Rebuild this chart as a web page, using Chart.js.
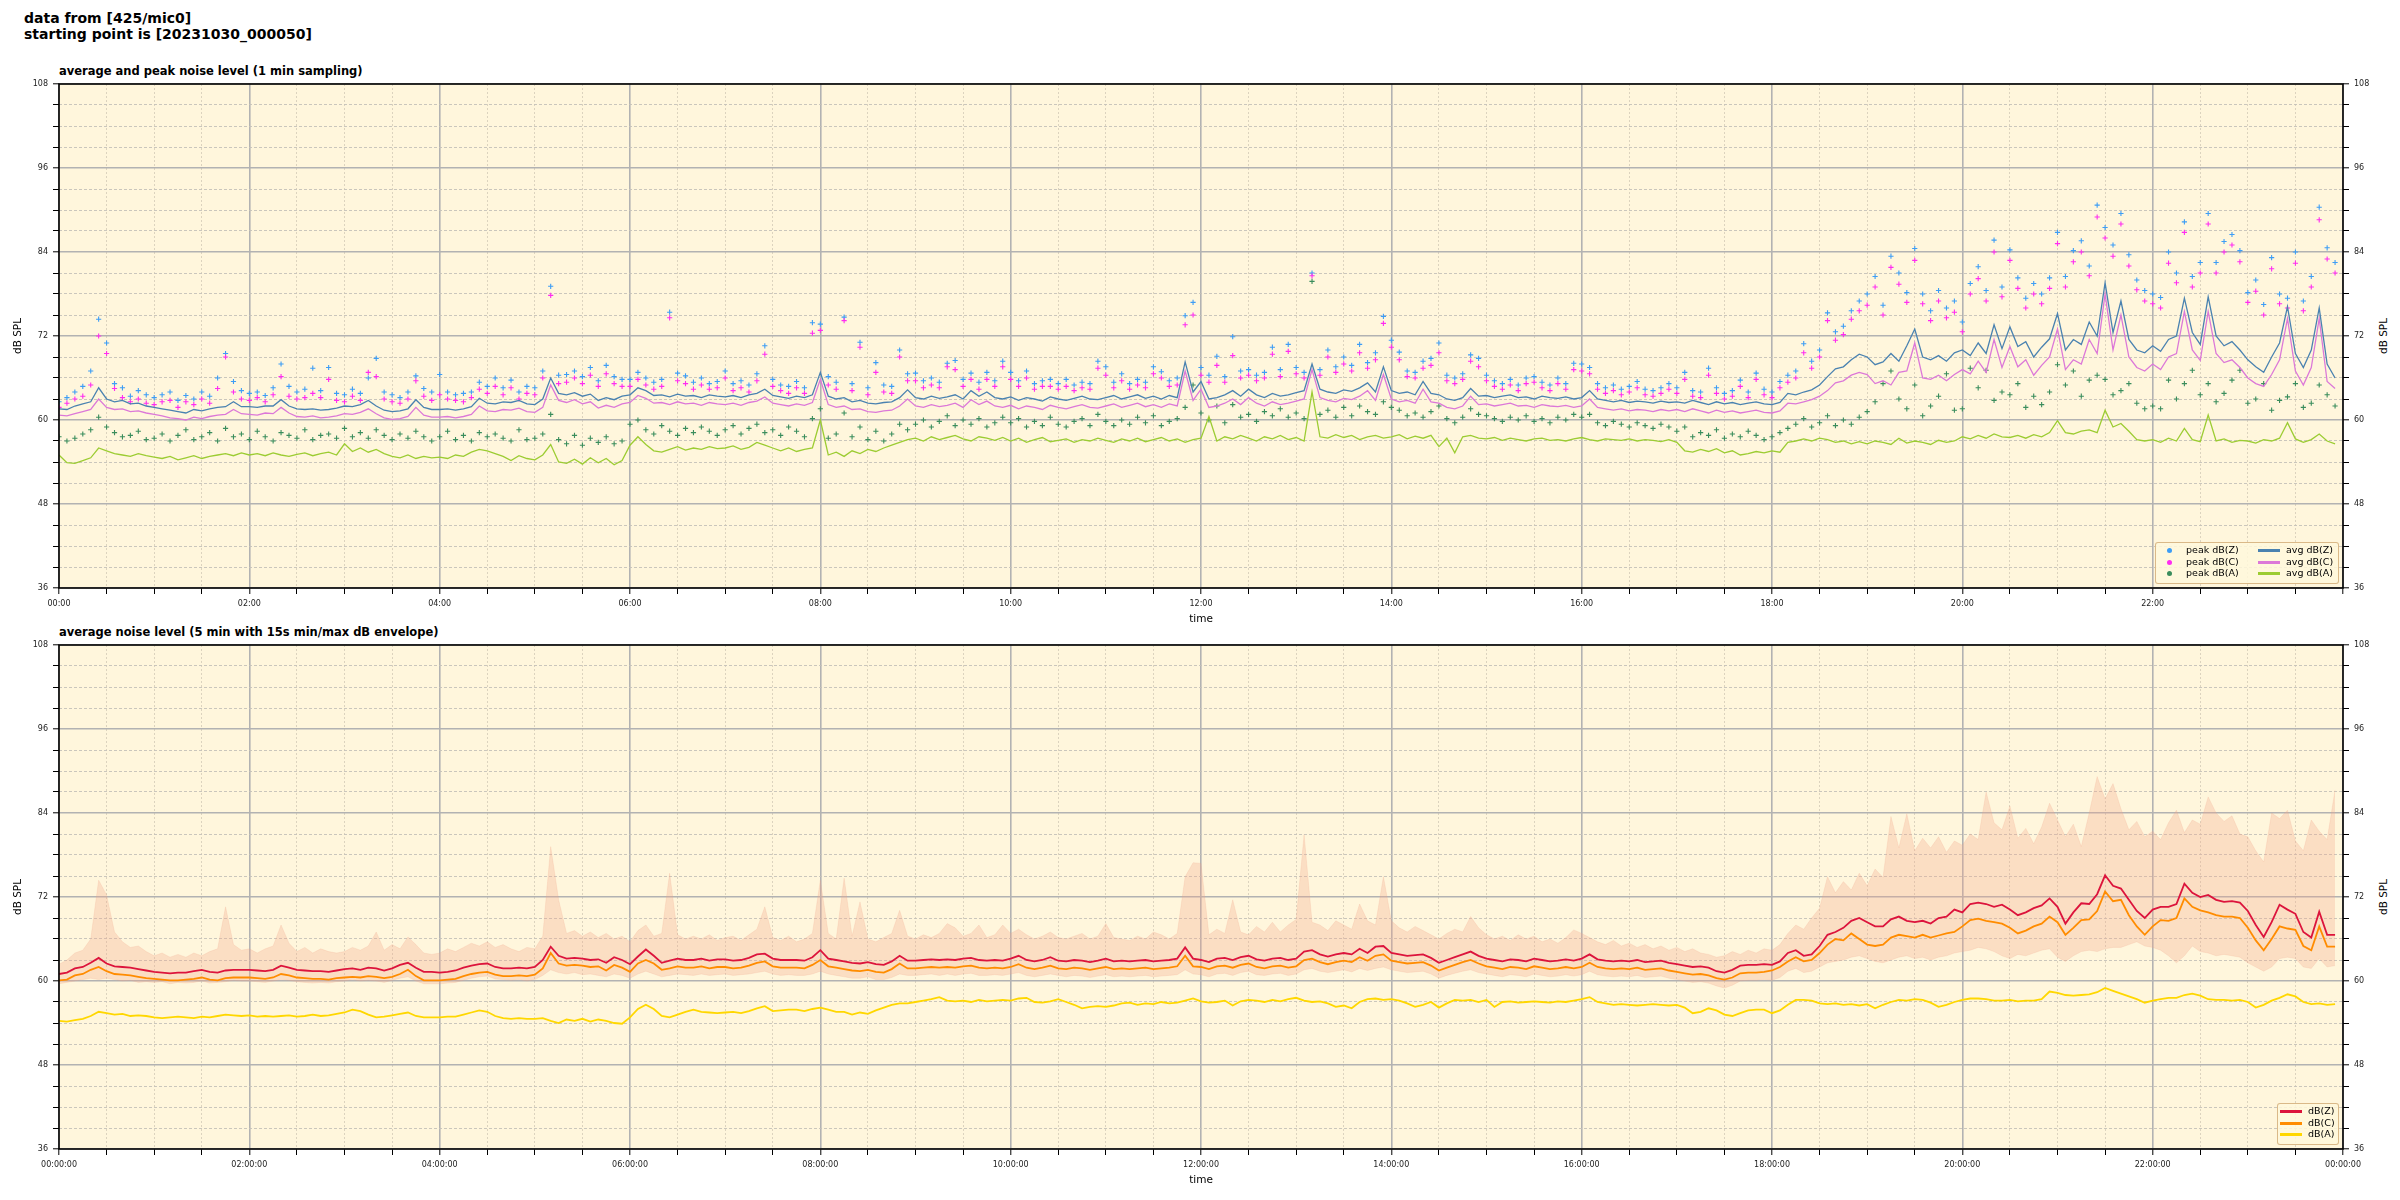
<!DOCTYPE html>
<html>
<head>
<meta charset="utf-8">
<script src="https://cdn.jsdelivr.net/npm/chart.js@4.4.1/dist/chart.umd.min.js"></script>
<style>
  body { margin: 0; background: #fff; width: 2400px; height: 1200px; position: relative; overflow: hidden; font-family: "DejaVu Sans", sans-serif; }
  canvas { position: absolute; left: 0; }
  .txt { position: absolute; white-space: nowrap; color: #000; }
  .suptitle { left: 24px; top: 10px; font-size: 14px; font-weight: bold; line-height: 16px; }
  .subtitle { left: 59px; font-size: 11.5px; font-weight: bold; line-height: 14px; }
  .ylab2 { font-size: 10.5px; transform: translate(-50%, -50%) rotate(-90deg); }
  .legend { position: absolute; background: rgba(255, 248, 220, 0.85); border: 1px solid rgba(214, 178, 128, 0.9); border-radius: 3px; }
  .lg-txt { position: absolute; font-size: 9.5px; line-height: 11px; white-space: nowrap; }
  .lg-dot { position: absolute; width: 5px; height: 5px; border-radius: 50%; }
  .lg-line { position: absolute; height: 3px; }
</style>
</head>
<body>
<div class="txt suptitle">data from [425/mic0]<br>starting point is [20231030_000050]</div>
<div class="txt subtitle" style="top:64px">average and peak noise level (1 min sampling)</div>
<div class="txt subtitle" style="top:625px">average noise level (5 min with 15s min/max dB envelope)</div>
<div class="txt ylab2" style="left:2383px; top:336px">dB SPL</div>
<div class="txt ylab2" style="left:2383px; top:897px">dB SPL</div>

<canvas id="topChart" width="2400" height="558" style="top:74px"></canvas>
<canvas id="bottomChart" width="2400" height="558" style="top:635px"></canvas>

<div class="legend" style="left:2155px; top:542px; width:182px; height:40px"></div>
<div id="topLegend"></div>
<div class="legend" style="left:2277px; top:1103px; width:60px; height:40px"></div>
<div id="bottomLegend"></div>

<script>
// all values in dB SPL, one value every 5 minutes from 00:00, one row per hour

// top panel: 1 min averages
var avgZ = [
  61.6, 61.5, 62.0, 62.3, 62.6, 64.6, 63.0, 62.6, 62.8, 62.3, 62.4, 62.0,
  61.8, 61.6, 61.4, 61.2, 61.0, 61.5, 61.3, 61.6, 61.8, 61.9, 62.6, 61.9,
  61.9, 61.8, 62.0, 62.0, 62.9, 62.0, 61.6, 61.5, 61.6, 61.4, 61.5, 61.7,
  62.0, 61.9, 62.2, 62.8, 62.0, 61.4, 61.2, 61.3, 61.6, 62.9, 61.8, 61.5,
  61.5, 61.6, 61.4, 61.6, 61.9, 63.1, 62.4, 62.3, 62.6, 62.5, 62.8, 62.3,
  62.2, 63.0, 66.0, 63.8, 63.6, 63.9, 63.4, 63.7, 62.8, 63.2, 62.9, 63.4,
  63.6, 64.6, 64.2, 63.5, 63.6, 63.3, 63.7, 63.4, 63.5, 63.2, 63.6, 63.4,
  63.3, 63.5, 63.2, 63.6, 63.8, 64.4, 63.5, 63.3, 63.1, 63.4, 63.2, 63.6,
  66.8, 63.4, 63.0, 63.2, 62.6, 62.8, 62.4, 62.3, 62.5, 62.6, 63.2, 64.3,
  63.2, 63.0, 63.4, 63.1, 63.3, 63.6, 63.0, 64.2, 63.4, 64.0, 63.2, 63.0,
  63.3, 62.8, 63.2, 63.0, 62.7, 63.3, 63.0, 62.8, 63.1, 63.4, 63.0, 62.9,
  63.2, 63.5, 63.0, 63.3, 63.6, 63.1, 63.4, 63.0, 63.5, 63.2, 68.3, 64.0,
  65.5, 63.0, 63.2, 63.6, 64.2, 63.4, 64.4, 63.6, 63.2, 63.8, 63.4, 63.6,
  63.9, 64.2, 68.0, 64.4, 64.0, 63.8, 64.3, 64.1, 64.6, 65.3, 64.0, 67.6,
  64.2, 63.8, 64.0, 63.6, 65.5, 63.8, 63.6, 63.0, 62.8, 63.2, 64.5, 63.4,
  63.5, 63.2, 63.4, 63.6, 63.2, 63.3, 63.0, 63.4, 63.2, 63.1, 63.3, 63.0,
  63.2, 64.2, 63.0, 62.8, 62.6, 62.8, 62.5, 62.7, 62.6, 62.4, 62.7, 62.5,
  62.6, 62.4, 62.8, 62.5, 62.2, 62.6, 62.3, 62.5, 62.2, 62.4, 62.6, 62.3,
  62.2, 62.5, 63.8, 63.6, 64.0, 64.3, 65.0, 66.2, 67.3, 67.6, 68.6, 69.4,
  69.0, 67.9, 68.3, 69.5, 68.4, 70.6, 73.0, 69.0, 68.6, 69.2, 68.4, 69.6,
  70.0, 69.2, 71.0, 69.5, 73.6, 70.2, 73.3, 70.5, 71.2, 69.0, 70.4, 71.6,
  75.2, 70.0, 71.5, 70.8, 74.0, 72.0, 79.6, 72.5, 77.0, 71.5, 70.0, 69.6,
  70.6, 69.8, 71.5, 72.0, 77.4, 72.5, 70.8, 77.6, 72.0, 70.6, 71.2, 70.0,
  68.6, 67.6, 66.8, 69.0, 71.0, 76.2, 69.5, 67.5, 70.0, 76.0, 68.0, 66.0
];
var avgC = [
  60.7, 60.6, 60.9, 61.2, 61.5, 63.0, 61.8, 61.5, 61.6, 61.2, 61.3, 61.0,
  60.8, 60.6, 60.3, 60.2, 60.0, 60.4, 60.2, 60.5, 60.7, 60.8, 61.5, 60.9,
  60.8, 60.7, 61.0, 60.9, 61.8, 61.0, 60.5, 60.4, 60.6, 60.3, 60.4, 60.6,
  60.9, 60.8, 61.1, 61.6, 60.9, 60.3, 60.1, 60.2, 60.5, 61.8, 60.7, 60.4,
  60.4, 60.5, 60.3, 60.5, 60.8, 62.0, 61.3, 61.2, 61.5, 61.4, 61.7, 61.2,
  61.1, 61.8, 65.0, 62.8, 62.5, 62.9, 62.3, 62.6, 61.7, 62.1, 61.8, 62.3,
  62.5, 63.5, 63.1, 62.4, 62.5, 62.2, 62.6, 62.3, 62.4, 62.1, 62.5, 62.3,
  62.2, 62.4, 62.1, 62.5, 62.7, 63.3, 62.4, 62.2, 62.0, 62.3, 62.1, 62.5,
  65.8, 62.2, 61.8, 62.0, 61.5, 61.6, 61.2, 61.1, 61.3, 61.4, 62.0, 63.0,
  62.0, 61.8, 62.2, 61.9, 62.1, 62.4, 61.8, 62.9, 62.2, 62.7, 62.0, 61.8,
  62.1, 61.6, 62.0, 61.8, 61.5, 62.1, 61.8, 61.6, 61.9, 62.2, 61.8, 61.7,
  62.0, 62.3, 61.8, 62.1, 62.4, 61.9, 62.2, 61.8, 62.3, 62.0, 67.0, 62.8,
  64.4, 61.8, 62.0, 62.4, 63.0, 62.2, 63.2, 62.4, 62.0, 62.6, 62.2, 62.4,
  62.7, 63.0, 67.2, 63.2, 62.8, 62.6, 63.1, 62.9, 63.4, 64.2, 62.8, 66.5,
  63.0, 62.6, 62.8, 62.4, 64.4, 62.6, 62.4, 61.8, 61.6, 62.0, 63.4, 62.2,
  62.3, 62.0, 62.2, 62.4, 62.0, 62.1, 61.8, 62.2, 62.0, 61.9, 62.1, 61.8,
  62.0, 63.0, 61.8, 61.6, 61.4, 61.6, 61.3, 61.5, 61.4, 61.2, 61.5, 61.3,
  61.5, 61.2, 61.6, 61.3, 61.0, 61.4, 61.1, 61.3, 61.0, 61.2, 61.4, 61.1,
  61.0, 61.3, 62.4, 62.3, 62.6, 62.9, 63.4, 64.2, 65.3, 65.6, 66.4, 66.8,
  66.5, 65.2, 65.6, 65.0, 66.8, 67.0, 71.0, 66.0, 65.8, 66.4, 65.6, 66.5,
  67.2, 66.6, 68.4, 66.8, 71.5, 67.5, 70.5, 67.6, 68.6, 66.4, 67.8, 69.0,
  73.0, 67.2, 68.6, 68.0, 71.5, 69.5, 78.0, 70.0, 75.0, 69.0, 67.5, 67.0,
  68.0, 67.2, 69.0, 69.5, 75.5, 70.0, 68.5, 75.5, 69.5, 68.2, 68.6, 67.5,
  66.0, 65.2, 64.8, 66.5, 68.6, 74.5, 67.0, 65.0, 67.5, 74.5, 65.5, 64.5
];
var avgA = [
  55.0, 53.9, 53.8, 54.2, 54.6, 56.0, 55.6, 55.2, 55.0, 54.8, 55.2, 54.9,
  54.7, 54.5, 54.8, 54.3, 54.6, 54.9, 54.5, 54.8, 55.0, 55.2, 54.9, 55.3,
  55.0, 55.2, 54.9, 55.3, 55.0, 54.8, 55.1, 55.3, 54.9, 55.2, 55.4, 55.0,
  56.6, 55.5, 56.0, 55.4, 55.8, 55.2, 54.8, 54.6, 55.0, 54.5, 54.8, 54.6,
  54.7, 54.5, 55.0, 54.8, 55.4, 55.8, 55.6, 55.2, 54.8, 54.2, 54.9, 54.5,
  54.3, 55.0, 56.5, 54.0, 53.8, 54.4, 53.7, 54.6, 53.9, 54.5, 53.6, 54.2,
  56.4, 57.6, 56.5, 55.6, 55.4, 55.8, 56.2, 55.7, 56.0, 55.8, 56.2, 55.9,
  56.0, 56.3, 55.8, 56.1, 56.8, 56.4, 56.0, 55.6, 56.0, 55.5, 55.8, 56.0,
  60.0, 55.0, 55.4, 54.8, 55.6, 55.2, 55.8, 55.5, 56.0, 56.4, 56.8, 57.2,
  57.4, 57.0, 57.6, 57.2, 57.5, 57.8, 57.3, 57.0, 57.6, 57.4, 57.1, 57.5,
  57.0, 57.4, 56.8, 57.2, 57.5, 56.9, 57.1, 57.3, 56.8, 57.2, 57.0, 57.4,
  57.1, 56.8, 57.3, 57.0, 57.4, 56.9, 57.2, 57.5, 57.0, 57.3, 56.8, 57.2,
  57.4, 60.5, 57.0, 57.6, 57.3, 57.8, 57.4, 57.0, 57.6, 57.3, 57.8, 57.2,
  57.5, 57.0, 64.0, 57.6, 57.4, 57.9, 57.5, 57.8, 57.2, 57.6, 57.8, 57.4,
  57.6, 57.9, 57.3, 57.7, 57.4, 57.8, 56.2, 57.4, 55.3, 57.6, 57.8, 57.4,
  57.3, 57.5, 57.1, 57.4, 57.2, 57.0, 57.3, 57.4, 57.1, 57.2, 57.0, 57.3,
  57.5, 57.2, 57.0, 57.3, 57.2, 57.1, 57.3, 57.0, 57.2, 57.1, 56.9, 57.2,
  56.8, 55.6, 55.4, 55.8, 55.5, 55.9, 55.3, 55.6, 55.0, 55.2, 55.5, 55.3,
  55.6, 55.4, 56.8, 57.0, 57.3, 57.0, 57.4, 57.2, 56.8, 57.0, 56.6, 56.9,
  56.6, 57.0, 56.8, 56.5, 57.4, 56.7, 57.0, 56.8, 56.5, 57.1, 56.8, 57.0,
  57.6, 57.3, 57.8, 57.4, 58.0, 57.6, 57.5, 57.8, 57.4, 57.9, 57.6, 58.2,
  59.9, 58.2, 58.0, 58.4, 58.6, 58.2, 61.4, 59.0, 59.5, 58.4, 57.2, 57.0,
  57.2, 56.8, 57.4, 57.0, 58.8, 57.2, 56.9, 60.7, 57.0, 57.3, 56.8, 57.1,
  57.0, 56.7, 57.2, 57.0, 57.4, 59.6, 57.3, 56.8, 57.2, 58.0, 57.0, 56.6
];

// top panel: 1 min peaks
var peakZ = [
  62.6, 63.2, 64.0, 64.8, 67.0, 74.4, 71.0, 65.2, 64.6, 63.4, 64.2, 63.6,
  63.2, 63.6, 64.0, 62.8, 63.5, 63.0, 64.0, 63.4, 66.0, 69.5, 65.5, 64.2,
  63.8, 64.0, 63.5, 64.6, 68.0, 64.8, 64.0, 64.4, 67.4, 64.2, 67.5, 63.8,
  63.6, 64.4, 63.8, 66.0, 68.8, 64.0, 63.6, 63.2, 64.0, 66.3, 64.5, 64.0,
  66.5, 64.0, 63.6, 63.8, 64.0, 65.4, 64.8, 66.0, 64.6, 65.7, 64.0, 64.8,
  64.6, 67.0, 79.1, 66.4, 66.5, 67.0, 66.2, 67.5, 65.6, 67.8, 66.2, 65.8,
  65.8, 66.8, 66.0, 65.4, 65.8, 75.4, 66.7, 66.3, 65.4, 66.0, 65.2, 65.5,
  67.0, 65.2, 65.6, 65.0, 66.6, 70.6, 65.8, 65.0, 64.8, 65.5, 64.6, 73.9,
  73.7, 66.2, 65.4, 74.7, 65.2, 71.1, 64.6, 68.2, 65.0, 64.8, 70.0, 66.6,
  66.7, 65.6, 66.0, 65.4, 68.1, 68.5, 65.8, 66.7, 65.4, 66.8, 65.6, 68.4,
  66.8, 65.6, 67.0, 65.2, 65.6, 65.8, 65.2, 65.8, 65.0, 65.4, 65.2, 68.4,
  67.6, 65.4, 66.6, 65.2, 65.8, 65.4, 67.6, 66.9, 65.6, 66.0, 74.9, 76.8,
  67.5, 66.4, 69.1, 66.2, 71.9, 67.0, 67.2, 66.4, 66.8, 70.4, 67.2, 70.8,
  67.5, 66.8, 81.0, 67.2, 70.0, 67.6, 69.0, 67.8, 70.8, 68.2, 69.6, 74.8,
  71.4, 69.7, 67.0, 66.8, 68.4, 68.8, 71.0, 66.4, 66.0, 66.6, 69.3, 68.8,
  66.4, 65.6, 65.2, 65.8, 65.0, 66.0, 66.2, 65.4, 65.0, 66.0, 65.2, 68.1,
  68.0, 67.5, 65.2, 64.6, 65.0, 64.4, 64.8, 65.5, 64.4, 64.2, 64.6, 65.2,
  64.6, 66.8, 64.2, 64.0, 67.4, 64.6, 63.8, 64.2, 65.7, 64.0, 66.7, 64.4,
  64.0, 65.5, 66.4, 67.0, 70.9, 68.4, 70.0, 75.3, 72.6, 73.4, 75.6, 77.0,
  78.0, 80.5, 76.4, 83.4, 81.0, 78.2, 84.5, 78.0, 75.6, 78.5, 76.0, 77.0,
  74.0, 79.5, 81.9, 78.5, 85.7, 79.0, 84.3, 80.3, 77.4, 79.5, 78.0, 80.3,
  86.8, 80.5, 84.2, 85.6, 82.0, 90.7, 87.5, 85.0, 89.5, 83.6, 80.0, 78.5,
  78.0, 77.5, 84.0, 81.0, 88.3, 80.5, 82.5, 89.5, 82.5, 85.5, 86.5, 84.2,
  78.2, 80.0, 76.5, 83.2, 78.0, 77.4, 84.0, 77.0, 80.5, 90.4, 84.6, 82.5
];
var peakC = [
  61.8, 62.4, 63.0, 63.4, 65.0, 72.0, 69.5, 64.5, 63.2, 62.6, 63.0, 62.4,
  62.2, 62.6, 62.8, 61.8, 62.6, 62.2, 63.0, 62.4, 64.5, 69.0, 64.0, 63.0,
  62.8, 63.2, 62.6, 63.6, 66.2, 63.4, 63.0, 63.2, 63.8, 63.2, 65.8, 62.8,
  62.6, 63.4, 62.8, 66.8, 66.2, 63.0, 62.6, 62.4, 63.0, 65.6, 63.4, 62.8,
  63.6, 63.0, 62.8, 62.6, 63.2, 64.4, 63.8, 64.8, 63.6, 64.6, 63.0, 63.8,
  63.6, 66.0, 77.8, 65.2, 65.4, 66.0, 65.2, 66.4, 64.8, 66.6, 65.2, 64.8,
  64.8, 65.8, 65.0, 64.4, 64.8, 74.6, 65.6, 65.2, 64.4, 65.0, 64.4, 64.6,
  66.0, 64.2, 64.6, 64.0, 65.6, 69.4, 64.8, 64.2, 63.8, 64.6, 63.8, 72.4,
  72.8, 65.0, 64.4, 74.2, 64.2, 70.4, 63.6, 66.8, 64.0, 63.8, 69.0, 65.6,
  65.6, 64.6, 65.0, 64.6, 67.6, 67.2, 64.8, 65.8, 64.4, 65.8, 64.8, 67.6,
  65.8, 64.8, 66.0, 64.4, 64.8, 64.8, 64.4, 64.8, 64.2, 64.6, 64.4, 67.4,
  66.4, 64.6, 65.6, 64.4, 65.0, 64.6, 66.6, 66.0, 64.8, 65.0, 73.6, 75.0,
  66.4, 65.4, 67.8, 65.4, 69.2, 66.0, 66.4, 65.6, 66.0, 69.4, 66.2, 69.8,
  66.6, 66.0, 80.6, 66.4, 69.0, 66.8, 68.0, 67.0, 69.6, 67.4, 68.6, 73.8,
  70.4, 68.6, 66.2, 66.0, 67.4, 67.8, 69.6, 65.6, 65.2, 65.8, 68.4, 67.6,
  65.6, 64.8, 64.4, 65.0, 64.2, 65.2, 65.4, 64.6, 64.2, 65.2, 64.4, 67.2,
  67.0, 66.6, 64.4, 63.8, 64.2, 63.6, 64.0, 64.6, 63.6, 63.4, 63.8, 64.4,
  63.8, 65.8, 63.4, 63.2, 66.4, 63.8, 63.0, 63.4, 64.8, 63.2, 65.8, 63.6,
  63.2, 64.6, 65.4, 66.0, 69.6, 67.4, 69.0, 74.2, 71.4, 72.2, 74.4, 75.6,
  76.4, 79.0, 75.0, 81.8, 79.4, 76.8, 82.8, 76.6, 74.2, 77.0, 74.6, 75.4,
  72.6, 78.0, 80.2, 77.0, 84.0, 77.6, 82.8, 78.8, 76.0, 78.0, 76.6, 78.8,
  85.2, 79.0, 82.6, 84.0, 80.6, 89.0, 86.0, 83.4, 88.0, 82.0, 78.6, 77.0,
  76.6, 76.0, 82.4, 79.6, 86.8, 79.0, 81.0, 88.0, 81.0, 84.0, 85.0, 82.6,
  76.8, 78.4, 75.0, 81.6, 76.6, 76.0, 82.4, 75.6, 79.0, 88.6, 83.0, 81.0
];
var peakA = [
  57.6, 57.0, 57.4, 58.0, 58.6, 60.4, 59.0, 58.2, 57.6, 57.8, 58.4, 57.2,
  57.4, 58.0, 57.0, 57.8, 58.6, 57.2, 57.6, 58.2, 57.0, 58.8, 57.6, 58.0,
  57.2, 58.4, 57.6, 57.0, 58.2, 57.8, 57.4, 58.6, 57.2, 57.8, 58.0, 57.4,
  58.8, 57.6, 58.2, 57.4, 58.6, 57.8, 57.2, 58.0, 57.4, 58.4, 57.6, 57.0,
  57.6, 58.4, 57.2, 57.8, 57.0, 58.2, 57.6, 58.0, 57.4, 57.0, 58.6, 57.2,
  57.4, 58.0, 60.8, 57.2, 56.6, 57.8, 56.4, 57.4, 56.8, 57.6, 56.6, 57.0,
  59.4, 60.0, 58.6, 58.0, 59.2, 58.4, 57.8, 58.8, 58.2, 59.0, 58.4, 57.8,
  58.6, 59.2, 58.0, 58.8, 59.4, 58.2, 58.6, 57.8, 59.0, 58.4, 57.6, 60.2,
  61.6, 57.4, 58.0, 61.0, 57.6, 59.0, 57.2, 58.4, 57.0, 58.0, 59.4, 58.6,
  59.4, 60.0, 59.0, 59.8, 60.6, 59.2, 60.0, 59.4, 60.2, 59.0, 59.6, 60.4,
  59.6, 60.2, 59.0, 59.8, 59.2, 60.4, 59.4, 59.0, 59.8, 60.2, 59.2, 60.8,
  59.8, 59.2, 60.0, 59.4, 60.4, 59.6, 60.6, 59.2, 59.8, 60.2, 61.8, 65.0,
  61.0, 60.0, 62.0, 59.6, 62.2, 60.4, 60.8, 59.8, 61.2, 60.6, 61.6, 60.4,
  61.0, 60.2, 79.8, 60.8, 61.4, 60.4, 61.8, 60.6, 62.0, 61.2, 60.8, 62.6,
  61.8, 61.4, 60.6, 61.0, 60.4, 61.2, 62.0, 60.2, 59.6, 60.4, 61.6, 60.8,
  60.6, 60.2, 59.8, 60.4, 60.0, 60.6, 59.8, 60.2, 59.6, 60.4, 60.0, 60.8,
  60.4, 60.8, 59.6, 59.2, 59.8, 59.4, 59.0, 59.6, 59.2, 58.8, 59.4, 59.0,
  58.4, 59.0, 57.6, 58.2, 57.8, 58.6, 57.4, 58.0, 57.6, 58.4, 57.8, 57.2,
  57.6, 58.2, 58.8, 59.4, 60.2, 59.0, 59.6, 60.6, 59.2, 60.0, 59.4, 60.4,
  61.2, 62.6, 65.2, 67.0, 63.0, 61.6, 65.0, 60.6, 62.0, 63.4, 66.6, 61.4,
  61.6, 67.4, 64.6, 67.1, 62.8, 64.0, 63.6, 65.2, 61.8, 63.4, 62.2, 64.0,
  67.9, 65.0, 67.0, 63.4, 65.7, 66.4, 65.8, 63.6, 64.2, 65.2, 62.4, 61.6,
  62.0, 61.6, 65.7, 63.0, 65.2, 67.1, 63.6, 65.2, 62.6, 63.8, 65.7, 67.1,
  62.4, 63.0, 65.2, 61.4, 62.8, 63.3, 65.2, 61.8, 62.4, 65.0, 63.6, 62.0
];

// bottom panel: 5 min averages
var dbZ = [
  61.0, 61.2, 61.8, 62.0, 62.6, 63.3, 62.5, 62.1, 62.0, 61.9, 61.7, 61.5,
  61.3, 61.2, 61.1, 61.2, 61.2, 61.4, 61.6, 61.3, 61.2, 61.5, 61.6, 61.6,
  61.6, 61.5, 61.4, 61.6, 62.2, 61.9, 61.6, 61.5, 61.4, 61.4, 61.3, 61.5,
  61.7, 61.8, 61.6, 61.9, 61.8, 61.5, 61.8, 62.3, 62.6, 61.9, 61.3, 61.3,
  61.2, 61.3, 61.5, 61.9, 62.2, 62.4, 62.5, 62.0, 61.8, 61.8, 61.9, 61.8,
  62.0, 63.0, 64.9, 63.6, 63.2, 63.3, 63.2, 63.0, 63.1, 62.6, 63.4, 63.0,
  62.4, 63.5, 64.5, 63.6, 62.6, 62.9, 63.2, 63.0, 63.0, 63.2, 62.9, 63.1,
  63.1, 62.9, 63.0, 63.3, 63.8, 63.9, 63.2, 63.0, 63.0, 63.0, 62.9, 63.4,
  64.4, 63.2, 63.0, 62.8, 62.6, 62.5, 62.7, 62.4, 62.3, 62.8, 63.6, 62.9,
  62.9, 63.0, 63.1, 63.0, 63.1, 63.0, 63.2, 63.3, 63.0, 62.9, 63.0, 62.9,
  63.2, 63.6, 63.0, 62.8, 63.0, 63.4, 62.9, 62.8, 63.0, 62.9, 62.7, 62.9,
  63.2, 62.8, 62.9, 62.8, 62.9, 63.0, 62.8, 62.9, 63.0, 63.2, 64.8, 63.2,
  63.0, 62.7, 63.2, 63.3, 63.0, 63.4, 63.6, 63.1, 62.9, 63.2, 63.3, 63.0,
  63.2, 64.2, 64.4, 63.8, 63.5, 63.8, 64.0, 63.8, 64.6, 64.0, 64.9, 65.0,
  64.0, 63.8, 63.6, 63.7, 63.8, 63.3, 62.6, 63.0, 63.4, 63.8, 64.2, 63.6,
  63.2, 63.0, 62.8, 63.1, 63.0, 62.8, 63.2, 63.0, 62.8, 62.9, 63.1, 62.9,
  63.2, 63.8, 63.1, 62.9, 62.8, 62.9, 62.8, 63.0, 62.7, 62.8, 62.9, 62.6,
  62.4, 62.2, 62.0, 62.1, 61.9, 61.4, 61.2, 61.6, 62.2, 62.3, 62.3, 62.4,
  62.3, 62.8, 64.0, 64.4, 63.6, 63.8, 65.0, 66.6, 67.0, 67.6, 68.6, 69.0,
  68.4, 67.8, 67.8, 68.8, 69.2, 68.6, 68.4, 68.6, 68.2, 69.0, 69.2, 70.2,
  69.8, 71.0, 71.2, 71.0, 70.6, 70.9, 70.2, 69.4, 69.8, 70.4, 70.8, 71.8,
  70.6, 68.2, 69.8, 71.1, 71.0, 72.4, 75.1, 73.6, 73.2, 71.6, 70.0, 69.0,
  70.2, 70.6, 70.6, 71.0, 73.9, 72.6, 72.0, 72.3, 71.6, 71.3, 71.4, 71.2,
  70.0, 68.0, 66.3, 68.4, 70.9, 70.2, 69.6, 67.0, 66.2, 69.9, 66.6, 66.6
];
var dbC = [
  60.1, 60.2, 60.8, 61.0, 61.6, 62.0, 61.4, 61.0, 60.9, 60.8, 60.6, 60.4,
  60.3, 60.2, 60.1, 60.1, 60.2, 60.3, 60.5, 60.2, 60.1, 60.4, 60.5, 60.5,
  60.5, 60.4, 60.3, 60.5, 61.0, 60.8, 60.5, 60.4, 60.3, 60.3, 60.2, 60.4,
  60.5, 60.6, 60.5, 60.7, 60.6, 60.4, 60.6, 61.0, 61.6, 60.7, 60.1, 60.1,
  60.1, 60.2, 60.3, 60.7, 61.0, 61.2, 61.3, 60.9, 60.7, 60.7, 60.8, 60.7,
  60.9, 61.8, 64.0, 62.5, 62.2, 62.3, 62.2, 62.0, 62.1, 61.5, 62.3, 61.9,
  61.3, 62.5, 63.0, 62.5, 61.6, 61.8, 62.1, 61.9, 61.9, 62.1, 61.8, 62.0,
  62.0, 61.8, 61.9, 62.2, 62.6, 62.8, 62.1, 61.9, 61.9, 61.9, 61.8, 62.3,
  63.0, 62.1, 61.9, 61.7, 61.5, 61.4, 61.6, 61.3, 61.2, 61.7, 62.5, 61.8,
  61.8, 61.9, 62.0, 61.9, 62.0, 61.9, 62.1, 62.2, 61.9, 61.8, 61.9, 61.8,
  62.0, 62.4, 61.9, 61.7, 61.9, 62.2, 61.8, 61.7, 61.9, 61.8, 61.6, 61.8,
  62.0, 61.7, 61.8, 61.7, 61.8, 61.9, 61.7, 61.8, 61.9, 62.1, 63.6, 62.1,
  62.0, 61.7, 62.1, 62.2, 61.9, 62.3, 62.5, 62.0, 61.8, 62.1, 62.2, 61.9,
  62.1, 63.0, 63.2, 62.7, 62.4, 62.7, 62.9, 62.7, 63.4, 62.9, 63.6, 63.8,
  62.9, 62.7, 62.5, 62.6, 62.7, 62.2, 61.5, 61.9, 62.3, 62.7, 63.0, 62.5,
  62.1, 61.9, 61.7, 62.0, 61.9, 61.7, 62.1, 61.9, 61.7, 61.8, 62.0, 61.8,
  62.0, 62.6, 62.0, 61.8, 61.7, 61.8, 61.7, 61.9, 61.6, 61.7, 61.8, 61.5,
  61.3, 61.1, 60.9, 61.0, 60.8, 60.4, 60.2, 60.5, 61.1, 61.2, 61.2, 61.3,
  61.5, 62.0, 62.8, 63.4, 62.8, 63.0, 64.0, 65.2, 66.0, 65.8, 66.8, 66.0,
  65.2, 65.0, 65.2, 66.2, 66.6, 66.4, 66.2, 66.6, 66.2, 66.5, 66.8, 67.0,
  67.8, 68.7, 68.9, 68.6, 68.4, 68.2, 67.6, 66.8, 67.2, 67.8, 68.2, 69.2,
  68.4, 66.6, 67.6, 68.7, 68.8, 70.0, 72.8, 71.4, 71.6, 69.4, 67.8, 66.6,
  67.8, 68.7, 68.6, 69.0, 71.8, 70.6, 70.1, 69.8, 69.4, 69.2, 69.2, 69.0,
  67.6, 65.8, 64.4, 66.0, 67.8, 67.5, 67.3, 65.0, 64.4, 67.8, 64.9, 64.9
];
var dbA = [
  54.3, 54.2, 54.4, 54.6, 55.0, 55.6, 55.4, 55.2, 55.3, 55.0, 55.1, 55.0,
  54.8, 54.7, 54.8, 54.9, 54.8, 54.7, 54.9, 54.8, 55.0, 55.2, 55.1, 55.0,
  55.1, 54.9, 55.0, 54.9, 55.0, 55.1, 54.9, 55.0, 55.2, 55.0, 55.1, 55.3,
  55.5, 55.9, 55.7, 55.2, 54.8, 54.9, 55.1, 55.3, 55.5, 55.0, 54.8, 54.8,
  54.8, 54.9, 54.9, 55.2, 55.5, 55.8, 55.6, 55.0, 54.7, 54.6, 54.7, 54.6,
  54.6, 54.7, 54.3, 54.0, 54.5, 54.3, 54.6, 54.2, 54.5, 54.3, 54.0, 53.9,
  54.8, 56.0, 56.6, 56.0, 55.0, 54.8, 55.2, 55.6, 55.9, 55.6, 55.5, 55.4,
  55.5, 55.6, 55.4, 55.7, 56.1, 56.4, 55.7, 55.8, 55.9, 55.9, 55.7, 56.0,
  56.2, 55.9, 55.6, 55.6, 55.2, 55.5, 55.3, 55.8, 56.2, 56.6, 56.8, 56.8,
  57.0, 57.2, 57.4, 57.7, 57.2, 57.1, 57.2, 57.0, 57.3, 57.1, 57.2, 57.3,
  57.2, 57.5, 57.6, 57.0, 56.9, 57.1, 57.4, 57.0, 56.6, 56.1, 56.3, 56.4,
  56.3, 56.5, 56.8, 56.9, 56.6, 56.8, 56.7, 57.0, 56.8, 56.9, 57.2, 57.5,
  57.1, 56.9, 57.0, 57.2, 56.5, 57.1, 57.3, 57.2, 57.0, 57.3, 57.1, 57.4,
  57.6, 57.2, 57.0, 57.1, 56.8, 56.3, 56.5, 56.1, 57.0, 57.4, 57.5, 57.3,
  57.4, 57.2, 56.8, 56.3, 56.6, 57.0, 56.2, 56.8, 57.3, 57.2, 57.3, 57.0,
  57.3, 56.3, 57.0, 57.1, 56.9, 57.0, 57.1, 57.0, 56.9, 57.1, 57.0, 57.2,
  57.4, 57.7, 57.0, 56.8, 56.6, 56.7, 56.6, 56.5, 56.6, 56.7, 56.6, 56.5,
  56.6, 56.2, 55.4, 55.6, 56.1, 55.8, 55.2, 55.0, 55.4, 55.8, 55.9, 55.9,
  55.4, 55.8, 56.6, 57.3, 57.3, 57.2, 56.8, 56.7, 56.8, 56.6, 56.7, 56.5,
  56.7, 56.1, 56.6, 57.0, 57.3, 57.2, 57.4, 57.3, 56.9, 56.3, 56.6, 57.0,
  57.3, 57.5, 57.5, 57.4, 57.2, 57.2, 57.3, 57.1, 57.2, 57.2, 57.4, 58.5,
  58.3, 58.0, 57.9, 58.0, 58.1, 58.4, 59.0, 58.6, 58.2, 57.8, 57.4, 56.9,
  57.2, 57.4, 57.6, 57.6, 58.0, 58.2, 57.9, 57.4, 57.3, 57.3, 57.2, 57.3,
  57.0, 56.2, 56.6, 57.2, 57.6, 58.1, 57.8, 57.0, 56.7, 56.8, 56.6, 56.7
];

// bottom panel: 15 s min / max envelope
var envMax = [
  62.4, 63.0, 64.0, 64.4, 66.0, 74.4, 72.3, 67.0, 65.6, 64.8, 65.0, 64.2,
  63.6, 64.0, 63.4, 63.8, 63.4, 64.0, 63.6, 64.2, 64.6, 70.6, 65.2, 64.4,
  64.6, 64.0, 64.6, 65.0, 68.0, 65.4, 64.2, 64.8, 64.0, 64.6, 64.2, 64.0,
  64.2, 64.8, 64.4, 65.0, 67.0, 64.4, 65.2, 64.6, 66.3, 65.2, 64.0, 63.8,
  64.0, 64.6, 64.2, 64.8, 65.4, 65.0, 65.6, 64.8, 65.2, 64.6, 64.2, 64.8,
  64.6, 66.4, 79.2, 71.6, 66.8, 67.2, 66.4, 67.0, 66.2, 66.8, 66.0, 66.4,
  65.6, 67.2, 68.0, 66.4, 66.8, 75.4, 66.6, 66.0, 66.4, 66.0, 66.6, 65.8,
  66.2, 66.4, 65.8, 66.6, 67.4, 70.6, 66.2, 65.8, 66.4, 65.6, 66.0, 66.8,
  74.4, 66.8, 66.0, 74.7, 66.4, 71.3, 66.0, 65.6, 66.2, 66.8, 70.1, 66.4,
  66.0, 66.6, 66.2, 66.8, 68.2, 67.6, 66.4, 66.8, 68.0, 66.2, 66.6, 68.0,
  66.8, 67.4, 66.6, 66.0, 66.4, 67.0, 66.2, 66.0, 66.4, 66.8, 66.0, 66.4,
  68.2, 66.2, 66.0, 65.8, 66.4, 66.0, 67.0, 66.6, 66.0, 66.8, 74.9, 76.9,
  76.8, 66.6, 67.4, 66.8, 71.6, 67.0, 66.6, 67.8, 67.0, 68.4, 67.0, 68.0,
  68.8, 80.9, 68.4, 68.0, 67.2, 68.6, 68.0, 67.4, 71.0, 68.6, 68.0, 74.9,
  68.6, 67.6, 67.0, 67.8, 67.2, 66.6, 66.0, 66.8, 67.4, 67.0, 69.2, 67.6,
  66.6, 66.0, 66.4, 65.8, 66.6, 66.0, 66.4, 65.6, 66.0, 65.4, 66.2, 67.3,
  66.8, 66.2, 65.6, 65.2, 65.8, 65.0, 65.4, 64.8, 65.2, 64.6, 65.0, 64.4,
  64.8, 64.2, 64.6, 64.0, 63.8, 63.4, 63.6, 64.2, 63.8, 64.4, 64.0, 64.6,
  64.4, 65.2, 66.8, 68.0, 67.4, 69.0, 70.4, 74.9, 72.6, 74.2, 73.0, 75.4,
  73.6, 76.0, 74.8, 83.5, 79.0, 83.9, 78.6, 80.4, 79.0, 80.6, 78.4, 80.0,
  79.4, 81.0, 80.2, 87.0, 82.6, 81.6, 85.0, 80.4, 81.8, 79.6, 82.0, 85.4,
  83.0, 80.6, 82.4, 79.2, 84.0, 89.2, 86.0, 88.2, 84.6, 81.6, 82.8, 80.6,
  81.4, 80.2, 82.6, 84.4, 81.2, 83.0, 82.4, 86.3, 84.0, 82.8, 83.6, 81.0,
  80.6, 78.6, 77.0, 84.0, 83.2, 84.4, 80.0, 78.6, 83.0, 81.4, 80.2, 87.3
];
var envMin = [
  59.6, 59.8, 60.0, 60.2, 60.4, 60.2, 60.4, 60.2, 60.0, 60.1, 59.8, 59.9,
  59.8, 59.9, 59.6, 59.8, 59.7, 59.8, 60.0, 59.7, 59.8, 59.9, 60.1, 60.0,
  60.0, 59.9, 59.8, 60.0, 60.2, 60.1, 59.9, 59.8, 59.7, 59.8, 59.7, 59.9,
  60.0, 60.2, 60.0, 60.1, 60.0, 59.8, 60.1, 60.4, 60.6, 60.0, 59.6, 59.6,
  59.6, 59.7, 59.8, 60.1, 60.4, 60.6, 60.7, 60.3, 60.2, 60.1, 60.2, 60.0,
  60.2, 60.8, 61.6, 61.2, 61.0, 61.2, 60.9, 61.0, 60.8, 60.6, 61.0, 60.8,
  60.4, 61.0, 61.4, 61.0, 60.6, 60.8, 61.0, 60.9, 60.8, 61.0, 60.8, 60.9,
  61.0, 60.8, 60.9, 61.0, 61.2, 61.4, 61.0, 60.8, 60.9, 60.8, 60.8, 61.0,
  61.4, 61.0, 60.8, 60.6, 60.4, 60.4, 60.6, 60.2, 60.2, 60.5, 61.0, 60.8,
  60.8, 60.9, 61.0, 60.8, 61.0, 60.8, 61.0, 61.1, 60.8, 60.8, 60.9, 60.8,
  61.0, 61.2, 60.8, 60.6, 60.8, 61.0, 60.8, 60.6, 60.8, 60.7, 60.5, 60.7,
  60.9, 60.6, 60.7, 60.6, 60.7, 60.8, 60.6, 60.7, 60.8, 60.9, 61.6, 61.0,
  60.9, 60.6, 61.0, 61.1, 60.8, 61.2, 61.4, 60.9, 60.8, 61.0, 61.1, 60.8,
  61.0, 61.6, 61.8, 61.4, 61.2, 61.4, 61.6, 61.3, 61.8, 61.5, 61.8, 62.0,
  61.6, 61.4, 61.2, 61.3, 61.4, 61.0, 60.4, 60.8, 61.1, 61.4, 61.6, 61.2,
  61.0, 60.8, 60.6, 60.9, 60.8, 60.6, 61.0, 60.8, 60.6, 60.7, 60.9, 60.7,
  60.9, 61.4, 60.9, 60.7, 60.6, 60.7, 60.6, 60.8, 60.5, 60.6, 60.7, 60.4,
  60.2, 60.0, 59.8, 59.9, 59.7, 59.3, 59.0, 59.4, 60.0, 60.1, 60.1, 60.2,
  60.1, 60.5, 61.4, 61.8, 61.2, 61.4, 62.0, 62.6, 62.8, 63.0, 63.4, 63.6,
  63.2, 62.8, 62.6, 63.0, 63.4, 63.6, 63.2, 63.4, 63.0, 63.4, 63.6, 64.0,
  64.2, 64.4, 64.8, 64.6, 64.2, 63.6, 63.2, 63.8, 63.6, 64.0, 64.4, 64.6,
  63.4, 62.8, 63.6, 64.2, 64.4, 64.2, 64.6, 64.8, 64.8, 65.2, 65.6, 65.0,
  64.8, 64.4, 63.6, 62.6, 63.6, 65.0, 64.2, 64.0, 63.6, 63.8, 63.6, 63.4,
  62.6, 62.0, 61.4, 62.0, 63.2, 63.4, 63.2, 62.0, 61.8, 63.2, 62.0, 62.2
];

// axis ticks
var yMin = 36, yMax = 108, yMinorStep = 3, yMajorStep = 12;
var xMinorStep = 30, xMajorStep = 120, dayMinutes = 1440;

var sampleMinutes = [];
for (var i = 0; i < avgZ.length; i++) sampleMinutes.push(i * 5);

function toPoints(values) {
  return values.map(function(v, i) { return {x: sampleMinutes[i], y: v}; });
}

function pad2(n) { return (n < 10 ? '0' : '') + n; }
function clock(m, withSec) {
  var h = Math.floor(m / 60) % 24;
  return pad2(h) + ':' + pad2(m % 60) + (withSec ? ':00' : '');
}

var tickFont = {family: 'DejaVu Sans', size: 8};
var titleFont = {family: 'DejaVu Sans', size: 10.5};

function isMajor(ctx, step) { return ctx.tick && Math.round(ctx.tick.value) % step === 0; }

function yAxis(position, width, showGrid) {
  return {
    type: 'linear', position: position, min: yMin, max: yMax,
    afterFit: function(s) { s.width = width; },
    ticks: {
      stepSize: yMinorStep, autoSkip: false, padding: 5, color: '#222', font: tickFont,
      callback: function(v) { return v % yMajorStep === 0 ? String(v) : ''; }
    },
    grid: {
      drawOnChartArea: showGrid, tickLength: 6, tickColor: '#000', tickWidth: 1,
      color: function(c) { return isMajor(c, yMajorStep) ? '#b2b2b2' : '#c4c1b8'; },
      lineWidth: function(c) { return isMajor(c, yMajorStep) ? 1.6 : 0.9; }
    },
    border: {
      display: false,
      dash: function(c) { return isMajor(c, yMajorStep) ? [] : [3, 2]; }
    },
    title: {display: position === 'left', text: 'dB SPL', color: '#000', font: titleFont, padding: {top: 12, bottom: 0}}
  };
}

function makeScales(withSec) {
  return {
    x: {
      type: 'linear', min: 0, max: dayMinutes,
      afterFit: function(s) { s.height = 44; },
      ticks: {
        stepSize: xMinorStep, autoSkip: false, includeBounds: false, maxRotation: 0, padding: 5,
        color: '#222', font: tickFont,
        callback: function(v) {
          if (v % xMajorStep !== 0) return '';
          if (!withSec && v >= dayMinutes) return '';
          return clock(v, withSec);
        }
      },
      grid: {
        tickLength: 6, tickColor: '#000', tickWidth: 1,
        color: function(c) { return isMajor(c, xMajorStep) ? '#b2b2b2' : '#d8d0ba'; },
        lineWidth: function(c) { return isMajor(c, xMajorStep) ? 1.6 : 0.9; }
      },
      border: {
        display: false,
        dash: function(c) { return isMajor(c, xMajorStep) ? [] : [2, 2]; }
      },
      title: {display: true, text: 'time', color: '#000', font: titleFont, padding: {top: 0, bottom: 6}}
    },
    y: yAxis('left', 59, true),
    y2: yAxis('right', 57, false)
  };
}

// background + black frame of the plot area
var plotFrame = {
  id: 'plotFrame',
  beforeDraw: function(chart) {
    var a = chart.chartArea, ctx = chart.ctx;
    ctx.save();
    ctx.fillStyle = '#fff6dc';
    ctx.fillRect(a.left, a.top, a.right - a.left, a.bottom - a.top);
    ctx.restore();
  },
  afterDraw: function(chart) {
    var a = chart.chartArea, ctx = chart.ctx;
    ctx.save();
    ctx.strokeStyle = '#000';
    ctx.lineWidth = 1.6;
    ctx.strokeRect(a.left, a.top, a.right - a.left, a.bottom - a.top);
    ctx.restore();
  }
};

function lineSet(label, values, color, width, order) {
  return {label: label, data: toPoints(values), borderColor: color, backgroundColor: color,
    borderWidth: width, pointRadius: 0, tension: 0, fill: false, order: order};
}
function peakSet(label, values, color, order) {
  return {label: label, data: toPoints(values), showLine: false, borderColor: color, backgroundColor: color,
    pointStyle: 'cross', pointRadius: 2.6, pointBorderWidth: 1.1, order: order};
}

var baseOptions = function(withSec) {
  return {
    responsive: false, animation: false, devicePixelRatio: 1,
    layout: {padding: {top: 10, bottom: 0, left: 0, right: 0}},
    plugins: {legend: {display: false}, tooltip: {enabled: false}},
    scales: makeScales(withSec)
  };
};

new Chart(document.getElementById('topChart'), {
  type: 'line',
  data: {datasets: [
    peakSet('peak dB(Z)', peakZ, '#3d9df5', 12),
    peakSet('peak dB(C)', peakC, '#ff2cf0', 11),
    peakSet('peak dB(A)', peakA, '#3a8d5c', 10),
    lineSet('avg dB(Z)', avgZ, '#4a82b0', 1.3, 1),
    lineSet('avg dB(C)', avgC, '#dc78d8', 1.3, 2),
    lineSet('avg dB(A)', avgA, '#9ccc32', 1.3, 3)
  ]},
  options: baseOptions(false),
  plugins: [plotFrame]
});

new Chart(document.getElementById('bottomChart'), {
  type: 'line',
  data: {datasets: [
    {label: 'max', data: toPoints(envMax), borderColor: 'rgba(240,160,135,0.3)', borderWidth: 0.6,
      backgroundColor: 'rgba(242,165,140,0.3)', pointRadius: 0, tension: 0, fill: 1, order: 10},
    {label: 'min', data: toPoints(envMin), borderColor: 'rgba(240,160,135,0.3)', borderWidth: 0.6,
      pointRadius: 0, tension: 0, fill: false, order: 11},
    lineSet('dB(Z)', dbZ, '#dc143c', 1.8, 1),
    lineSet('dB(C)', dbC, '#ff8c00', 1.8, 2),
    lineSet('dB(A)', dbA, '#ffd700', 1.8, 3)
  ]},
  options: baseOptions(true),
  plugins: [plotFrame]
});

// legends drawn as html boxes like the matplotlib ones
function addLegendRow(host, row) {
  var mark = document.createElement('div');
  if (row.dot) {
    mark.className = 'lg-dot';
    mark.style.left = (row.mx - 2.5) + 'px';
    mark.style.top = (row.y - 2.5) + 'px';
  } else {
    mark.className = 'lg-line';
    mark.style.left = row.mx + 'px';
    mark.style.width = row.mw + 'px';
    mark.style.top = (row.y - 1.5) + 'px';
  }
  mark.style.background = row.color;
  host.appendChild(mark);
  var t = document.createElement('div');
  t.className = 'lg-txt';
  t.textContent = row.text;
  t.style.left = row.tx + 'px';
  t.style.top = (row.y - 6) + 'px';
  host.appendChild(t);
}

var topRows = [
  {dot: true, mx: 2169, y: 550, color: '#3d9df5', tx: 2186, text: 'peak dB(Z)'},
  {dot: true, mx: 2169, y: 562, color: '#ff2cf0', tx: 2186, text: 'peak dB(C)'},
  {dot: true, mx: 2169, y: 573, color: '#3a8d5c', tx: 2186, text: 'peak dB(A)'},
  {mx: 2258, mw: 22, y: 550, color: '#4a82b0', tx: 2286, text: 'avg dB(Z)'},
  {mx: 2258, mw: 22, y: 562, color: '#dc78d8', tx: 2286, text: 'avg dB(C)'},
  {mx: 2258, mw: 22, y: 573, color: '#9ccc32', tx: 2286, text: 'avg dB(A)'}
];
var bottomRows = [
  {mx: 2280, mw: 22, y: 1111, color: '#dc143c', tx: 2308, text: 'dB(Z)'},
  {mx: 2280, mw: 22, y: 1123, color: '#ff8c00', tx: 2308, text: 'dB(C)'},
  {mx: 2280, mw: 22, y: 1134, color: '#ffd700', tx: 2308, text: 'dB(A)'}
];
topRows.forEach(function(r) { addLegendRow(document.getElementById('topLegend'), r); });
bottomRows.forEach(function(r) { addLegendRow(document.getElementById('bottomLegend'), r); });
</script>
</body>
</html>
